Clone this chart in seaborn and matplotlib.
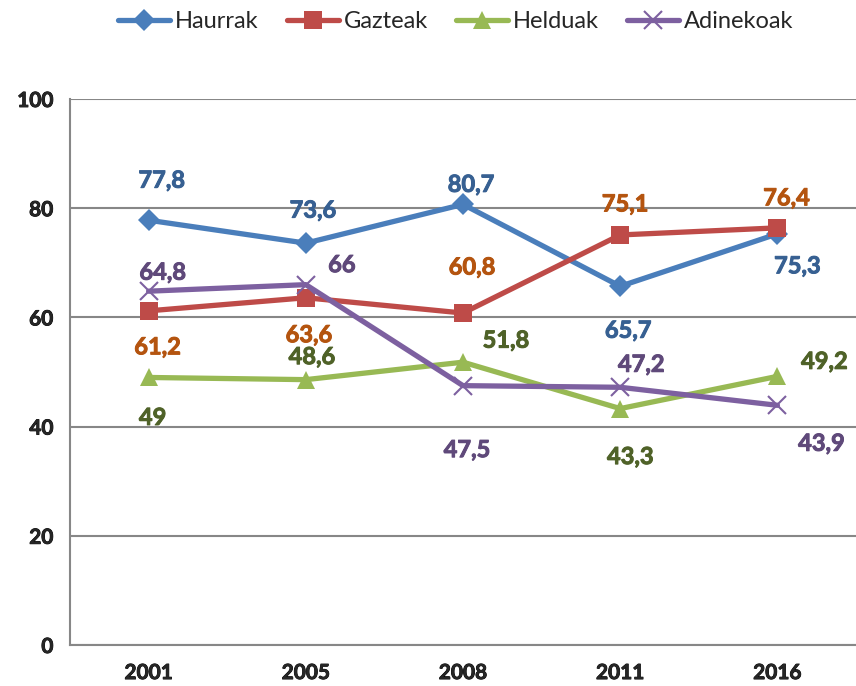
import pandas as pd
import matplotlib.pyplot as plt
import matplotlib.patheffects as pe
import seaborn as sns
from matplotlib.ticker import FixedLocator, NullFormatter

years = ['2001', '2005', '2008', '2011', '2016']
haurrak = [77.8, 73.6, 80.7, 65.7, 75.3]
gazteak = [61.2, 63.6, 60.8, 75.1, 76.4]
helduak = [49.0, 48.6, 51.8, 43.3, 49.2]
adinekoak = [64.8, 66.0, 47.5, 47.2, 43.9]

series_names = ['Haurrak', 'Gazteak', 'Helduak', 'Adinekoak']
line_colors = ['#4A7EBB', '#BE4B48', '#98B954', '#7D60A0']
label_colors = ['#376092', '#B4540F', '#4F6228', '#5F497A']
markers = ['D', 's', '^', 'x']
marker_sizes = [11, 13, 13, 13]

# label offsets in pixels (dx, dy) for each point
offsets = {
    'Haurrak': [(13, 40), (7, 33), (8, 20), (8, -44), (20, -32)],
    'Gazteak': [(9, -36), (3, -37), (9, 46), (5, 31), (9, 30)],
    'Helduak': [(4, -40), (6, 23), (43, 22), (10, -48), (47, 15)],
    'Adinekoak': [(14, 19), (36, 20), (4, -64), (21, 23), (44, -38)],
}

all_vals = [haurrak, gazteak, helduak, adinekoak]

sns.set_style('white')
plt.rcParams['font.family'] = ['Lato', 'DejaVu Sans']

fig = plt.figure(figsize=(8.56, 6.86), dpi=100)
ax = fig.add_axes([70 / 856, 1 - 645 / 686, 786 / 856, 546 / 686])

for name, vals, c, m, ms in zip(series_names, all_vals, line_colors, markers, marker_sizes):
    d = pd.DataFrame({'pos': range(len(years)), 'value': vals})
    sns.lineplot(data=d, x='pos', y='value', color=c, marker=m, markersize=ms,
                 markeredgewidth=(1.5 if m == 'x' else 0), markeredgecolor=c,
                 linewidth=3.8, ax=ax)

for name, vals, lc in zip(series_names, all_vals, label_colors):
    for i, v in enumerate(vals):
        dx, dy = offsets[name][i]
        txt = f'{v:g}'.replace('.', ',')
        ax.annotate(txt, (i, v), xytext=(dx, dy), textcoords='offset pixels',
                    ha='center', va='center', fontsize=17, fontweight='bold', color=lc,
                    path_effects=[pe.withStroke(linewidth=0.7, foreground=lc)])

ax.set_xlim(-0.5, 4.5)
ax.set_ylim(0, 100)
ax.set_yticks([0, 20, 40, 60, 80, 100])
ax.yaxis.grid(True, color='#878787', linewidth=1.5)
ax.set_axisbelow(True)
ax.set_xticks(range(len(years)))
ax.set_xticklabels(years)
ax.xaxis.set_minor_locator(FixedLocator([-0.5, 0.5, 1.5, 2.5, 3.5, 4.5]))
ax.xaxis.set_minor_formatter(NullFormatter())
ax.tick_params(axis='x', which='major', length=0, pad=13, labelsize=15)
ax.tick_params(axis='x', which='minor', length=6, width=1.5, color='#878787', direction='out')
ax.tick_params(axis='y', length=6, width=1.5, color='#878787', direction='out', labelsize=15, pad=6)
for lab in ax.get_xticklabels() + ax.get_yticklabels():
    lab.set_fontweight('bold')
    lab.set_path_effects([pe.withStroke(linewidth=0.6, foreground='black')])
ax.set_xlabel('')
ax.set_ylabel('')
for s in ['top', 'right']:
    ax.spines[s].set_visible(False)
for s in ['left', 'bottom']:
    ax.spines[s].set_color('#878787')
    ax.spines[s].set_linewidth(1.5)

handles = [plt.Line2D([], [], color=c, marker=m, linewidth=3.8, markersize=ms,
                      markeredgewidth=(1.5 if m == 'x' else 0), markeredgecolor=c)
           for c, m, ms in zip(line_colors, markers, marker_sizes)]
fig.legend(handles, series_names, loc='center', bbox_to_anchor=(456 / 856, 1 - 22 / 686),
           ncol=4, frameon=False, fontsize=17, handlelength=2.2, handletextpad=0.2,
           columnspacing=1.2)

fig.savefig('out.png', dpi=100)
